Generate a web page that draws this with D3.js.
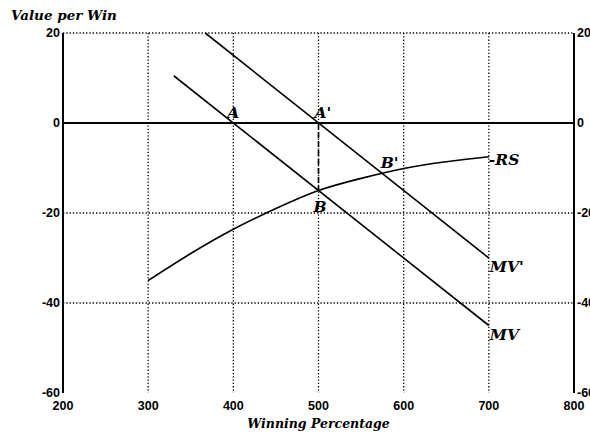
<!DOCTYPE html>
<html lang="en">
<head>
<meta charset="UTF-8">
<title>Value per Win</title>
<script src="https://d3js.org/d3.v7.min.js"></script>
<style>
  body { margin: 0; background: #fff; }
  .tick-label { font-family: "Liberation Sans", Arial, sans-serif; font-weight: bold; font-size: 12.5px; }
  .title { font-family: "DejaVu Serif", "Liberation Serif", serif; font-weight: bold; font-style: italic; }
  .grid { stroke: #000; stroke-width: 1.3; stroke-dasharray: 1.3,2; fill: none; }
</style>
</head>
<body>
<svg id="chart"></svg>
<script>
const xTicks = [200, 300, 400, 500, 600, 700, 800];
const yTicks = [20, 0, -20, -40, -60];

// marginal value curves
const mvX = [330, 700];
const mvY = [10.5, -45];
const mvPrimeX = [367, 700];
const mvPrimeY = [20, -30];

// revenue sharing curve (-RS)
const rsX = [300, 350, 400, 450, 500, 550, 600, 650, 700];
const rsY = [-35, -29, -23.6, -19, -15, -12.3, -10.1, -8.6, -7.5];

const pointLabels = ["A", "A'", "B", "B'", "-RS", "MV'", "MV"];
const pointX = [400, 500, 500, 573, 700, 700, 700];
const pointY = [0, 0, -15, -11, -7.5, -30, -45];

const W = 590, H = 436;
const margin = { top: 33, right: 16, bottom: 43, left: 63 };
const width = W - margin.left - margin.right;
const height = H - margin.top - margin.bottom;

const svg = d3.select("#chart").attr("width", W).attr("height", H);
const g = svg.append("g").attr("transform", `translate(${margin.left},${margin.top})`);

const x = d3.scaleLinear().domain([200, 800]).range([0, width]);
const y = d3.scaleLinear().domain([-60, 20]).range([height, 0]);

// dotted grid
g.selectAll(".vgrid")
    .data(xTicks.filter(d => d > 200 && d < 800))
    .enter().append("line")
    .attr("class", "grid")
    .attr("x1", d => x(d)).attr("x2", d => x(d))
    .attr("y1", 0).attr("y2", height);

g.selectAll(".hgrid")
    .data(yTicks.filter(d => d !== 0 && d !== -60))
    .enter().append("line")
    .attr("class", "grid")
    .attr("x1", 0).attr("x2", width)
    .attr("y1", d => y(d)).attr("y2", d => y(d));

// zero line
g.append("line")
    .attr("x1", 0).attr("x2", width)
    .attr("y1", y(0)).attr("y2", y(0))
    .attr("stroke", "#000").attr("stroke-width", 2);

// left and right axes
[0, width].forEach(px => {
    g.append("line")
        .attr("x1", px).attr("x2", px)
        .attr("y1", 0).attr("y2", height)
        .attr("stroke", "#000").attr("stroke-width", 2);
});

// tick labels (the right-hand ones run off the page, as in the scan)
g.selectAll(".ylab-l")
    .data(yTicks)
    .enter().append("text")
    .attr("class", "tick-label")
    .attr("x", -3).attr("y", d => y(d) + 4)
    .attr("text-anchor", "end")
    .text(d => d);

g.selectAll(".ylab-r")
    .data(yTicks)
    .enter().append("text")
    .attr("class", "tick-label")
    .attr("x", width + 3).attr("y", d => y(d) + 4)
    .attr("text-anchor", "start")
    .text(d => d);

g.selectAll(".xlab")
    .data(xTicks)
    .enter().append("text")
    .attr("class", "tick-label")
    .attr("x", d => x(d)).attr("y", height + 17)
    .attr("text-anchor", "middle")
    .text(d => d);

const line = d3.line().x(d => x(d[0])).y(d => y(d[1]));

g.append("path")
    .datum(d3.zip(mvX, mvY))
    .attr("d", line)
    .attr("fill", "none").attr("stroke", "#000").attr("stroke-width", 1.6);

g.append("path")
    .datum(d3.zip(mvPrimeX, mvPrimeY))
    .attr("d", line)
    .attr("fill", "none").attr("stroke", "#000").attr("stroke-width", 1.6);

g.append("path")
    .datum(d3.zip(rsX, rsY))
    .attr("d", line.curve(d3.curveNatural))
    .attr("fill", "none").attr("stroke", "#000").attr("stroke-width", 1.6);

// dashed drop from A' to B
g.append("line")
    .attr("x1", x(500)).attr("x2", x(500))
    .attr("y1", y(0)).attr("y2", y(-15))
    .attr("stroke", "#000").attr("stroke-width", 1.6)
    .attr("stroke-dasharray", "6,3");

// point labels
const labelOffsets = {
    "A": [-6, -5], "A'": [-4, -5], "B": [-5, 21], "B'": [0, -5],
    "-RS": [0, 8], "MV'": [1, 14], "MV": [1, 14]
};
g.selectAll(".plabel")
    .data(d3.range(pointLabels.length))
    .enter().append("text")
    .attr("class", "title")
    .style("font-size", "15.5px")
    .attr("x", i => x(pointX[i]) + labelOffsets[pointLabels[i]][0])
    .attr("y", i => y(pointY[i]) + labelOffsets[pointLabels[i]][1])
    .text(i => pointLabels[i]);

// titles
svg.append("text")
    .attr("class", "title")
    .style("font-size", "13.5px")
    .attr("x", 11).attr("y", 20)
    .text("Value per Win");

svg.append("text")
    .attr("class", "title")
    .style("font-size", "12.5px")
    .attr("x", margin.left + x(500)).attr("y", 428)
    .attr("text-anchor", "middle")
    .text("Winning Percentage");
</script>
</body>
</html>
